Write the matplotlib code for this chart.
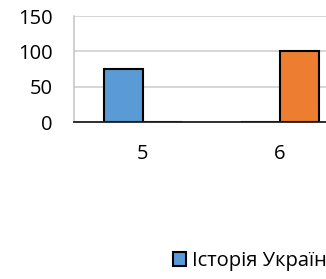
import matplotlib
matplotlib.use("Agg")
import matplotlib.pyplot as plt
from matplotlib.patches import Patch

categories = ["5", "6"]
series_names = ["Історія України", "Всесвітня історія"]
history_ukraine = [75, 0]
world_history = [0, 100]
y_ticks = [0, 50, 100, 150]

plt.rcParams['font.family'] = ['Open Sans', 'DejaVu Sans']

W, H = 326, 279
fig = plt.figure(figsize=(W / 100, H / 100), dpi=100)
ax_left, ax_top, ax_bottom = 74, 16, 122
cat_px = 137
ax = fig.add_axes([ax_left / W, 1 - ax_bottom / H, cat_px * len(categories) / W, (ax_bottom - ax_top) / H])

xs = list(range(len(categories)))
bw = 39 / cat_px
colors = ["#5b9bd5", "#ed7d31"]
ax.bar([x - bw for x in xs], history_ukraine, width=bw, align='edge', color=colors[0],
       edgecolor='black', linewidth=1.5, zorder=3)
ax.bar(xs, world_history, width=bw, align='edge', color=colors[1],
       edgecolor='black', linewidth=1.5, zorder=3)

ax.set_xlim(-0.5, len(categories) - 0.5)
ax.set_ylim(0, 150)
ax.set_yticks(y_ticks)
ax.set_yticklabels([str(v) for v in y_ticks])
ax.set_xticks(xs)
ax.set_xticklabels(categories)
ax.yaxis.grid(True, color='#d0d0d0', linewidth=1.2, zorder=0)
ax.set_axisbelow(True)
for s in ['top', 'right']:
    ax.spines[s].set_visible(False)
ax.spines['left'].set_color('#c8c8c8')
ax.spines['left'].set_linewidth(1.2)
ax.spines['bottom'].set_color('#202020')
ax.spines['bottom'].set_linewidth(1.3)
ax.spines['bottom'].set_zorder(4)
ax.tick_params(axis='both', length=0, labelsize=14.5, colors='#000000')
ax.tick_params(axis='y', pad=15.5)
ax.tick_params(axis='x', pad=16)

handles = [Patch(facecolor=c, edgecolor='black', linewidth=1.5) for c in colors]
fig.legend(handles, series_names, loc='center left', ncol=2,
           bbox_to_anchor=(173 / W, 1 - 261 / H), frameon=False, fontsize=14.5,
           handlelength=0.65, handleheight=0.65, handletextpad=0.3, borderpad=0,
           borderaxespad=0, columnspacing=1.5)

fig.savefig("out.png", dpi=100)
